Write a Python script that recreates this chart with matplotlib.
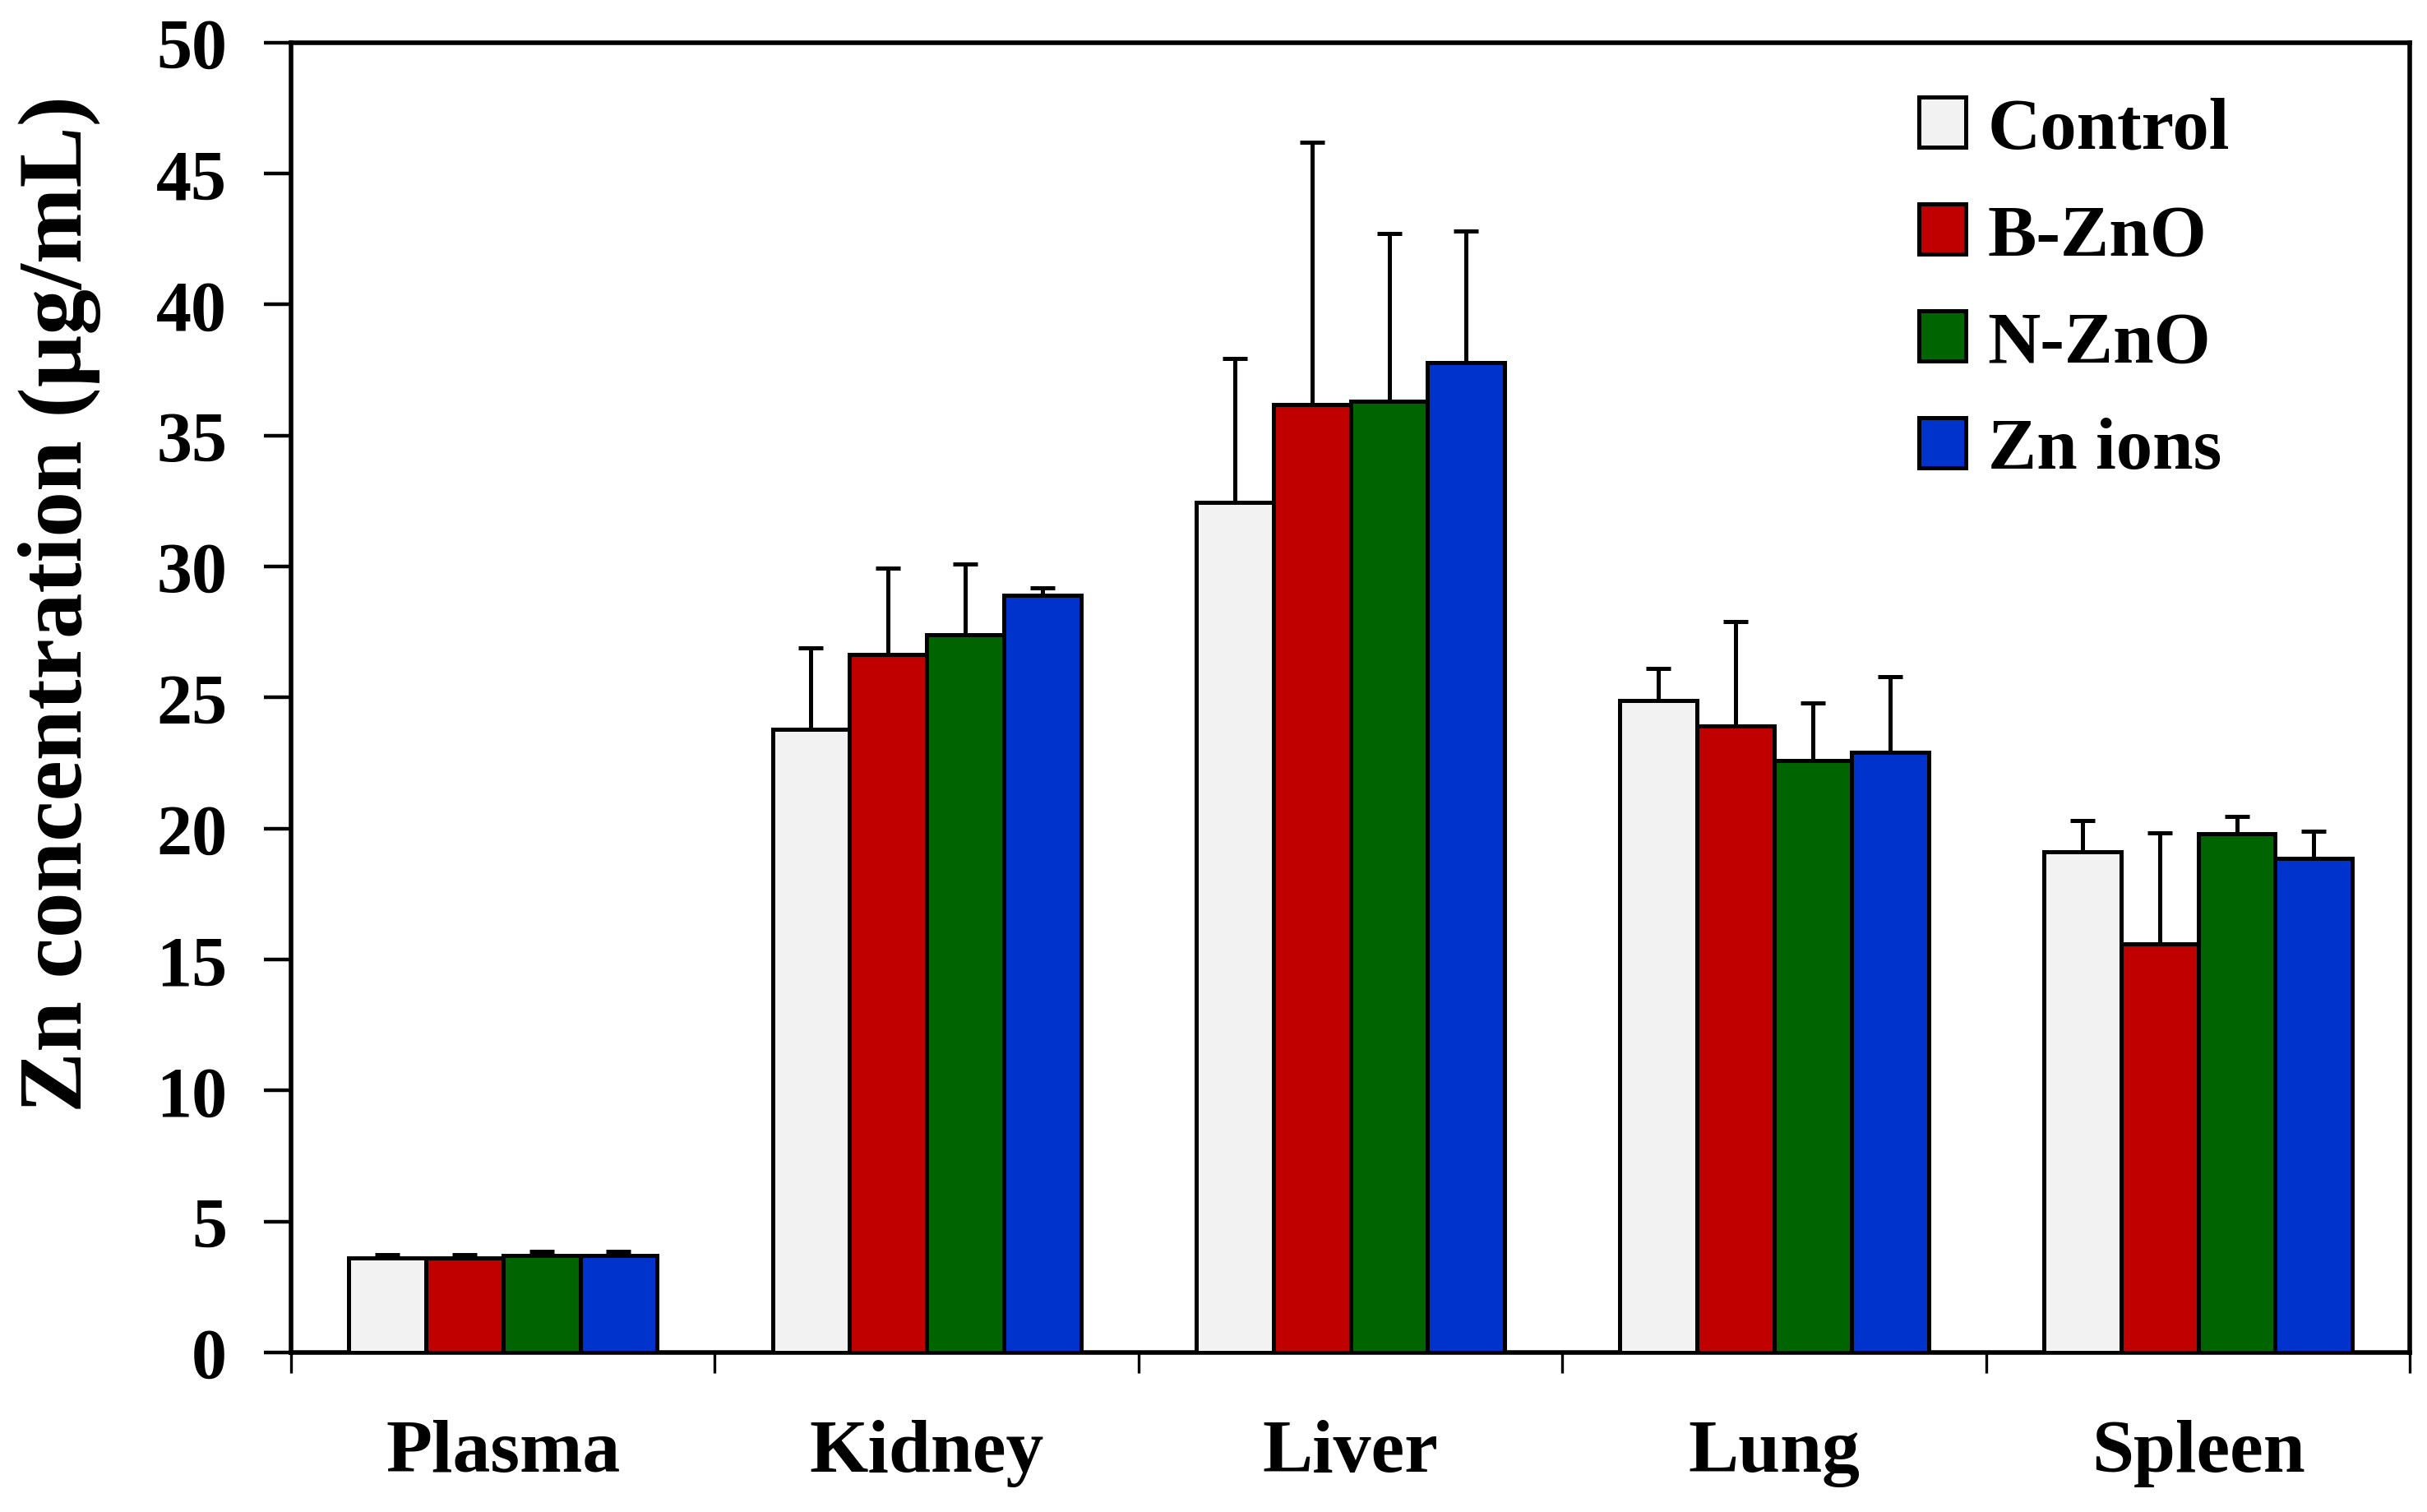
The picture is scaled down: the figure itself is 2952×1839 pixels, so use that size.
import matplotlib
matplotlib.use("Agg")
import matplotlib.pyplot as plt
import numpy as np

categories = ["Plasma", "Kidney", "Liver", "Lung", "Spleen"]
series = ["Control", "B-ZnO", "N-ZnO", "Zn ions"]
control = [3.6, 23.8, 32.45, 24.9, 19.1]
bzno = [3.6, 26.65, 36.2, 23.9, 15.6]
nzno = [3.7, 27.4, 36.3, 22.6, 19.8]
znions = [3.7, 28.9, 37.8, 22.9, 18.85]
control_err = [0.15, 3.1, 5.5, 1.2, 1.2]
bzno_err = [0.15, 3.3, 10.0, 4.0, 4.25]
nzno_err = [0.15, 2.7, 6.4, 2.2, 0.65]
znions_err = [0.15, 0.3, 5.0, 2.9, 1.05]
colors = ["#F2F2F2", "#C00000", "#006400", "#0033CC"]
yticks = [0, 5, 10, 15, 20, 25, 30, 35, 40, 45, 50]

values = [control, bzno, nzno, znions]
errs = [control_err, bzno_err, nzno_err, znions_err]

plt.rcParams['font.family'] = ['Liberation Serif', 'DejaVu Serif']
plt.rcParams['font.weight'] = 'bold'

fig = plt.figure(figsize=(14.76, 9.2), dpi=200)
ax = fig.add_axes([0.1199, 0.1054, 0.8731, 0.8659])

x = np.arange(len(categories))
w = 0.182
for i, (vals, er, c, name) in enumerate(zip(values, errs, colors, series)):
    pos = x + (i - 1.5) * w
    ax.bar(pos, vals, width=w, color=c, edgecolor='black', linewidth=1.8,
           label=name, zorder=3)
    ax.errorbar(pos, vals, yerr=[np.zeros(len(er)), er], fmt='none',
                ecolor='black', elinewidth=1.8, capsize=5.5, capthick=1.8,
                zorder=2)

ax.set_xlim(-0.5, len(categories) - 0.5)
ax.set_ylim(0, 50)
ax.set_yticks(yticks)
ax.set_yticklabels([str(t) for t in yticks], fontsize=31, fontweight='bold')
ax.set_xticks(x)
ax.set_xticklabels(categories, fontsize=33, fontweight='bold')
ax.set_xticks(np.arange(len(categories) + 1) - 0.5, minor=True)
ax.tick_params(axis='x', which='major', length=0, pad=29)
ax.tick_params(axis='x', which='minor', length=9, width=1.2, direction='out')
ax.tick_params(axis='y', which='major', length=12, width=1.6, direction='out', pad=16)
for s in ax.spines.values():
    s.set_linewidth(2.0)

ax.set_ylabel("Zn concentration (µg/mL)", fontsize=40, fontweight='bold')
ax.yaxis.set_label_coords(-0.0895, 0.572)

leg = ax.legend(loc='upper left', bbox_to_anchor=(0.7545, 0.981), frameon=False,
                fontsize=32, handlelength=0.64, handleheight=0.68,
                handletextpad=0.3, labelspacing=0.55, borderaxespad=0)
for t in leg.get_texts():
    t.set_fontweight('bold')
for h in leg.legend_handles:
    h.set_linewidth(1.8)

fig.savefig("out.png", dpi=200)
